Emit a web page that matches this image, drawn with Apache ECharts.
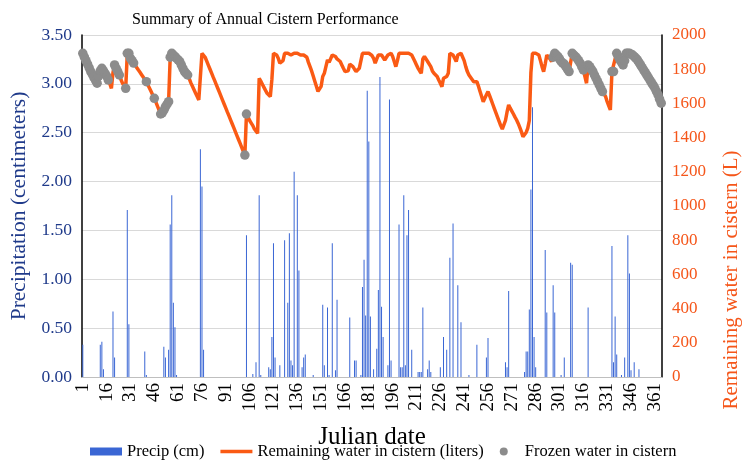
<!DOCTYPE html>
<html>
<head>
<meta charset="utf-8">
<script src="https://cdn.jsdelivr.net/npm/echarts@6/dist/echarts.min.js"></script>
<style>
  html, body { margin: 0; padding: 0; background: #fff; }
  #chart { width: 744px; height: 467px; }
</style>
</head>
<body>
<div id="chart"></div>
<script>
// Julian days 1..365 (category axis)
var julianDays = [];
for (var d = 1; d <= 365; d++) julianDays.push(String(d));

// days that had rain, and how much (cm)
var precipDays = [1, 12, 13, 14, 20, 21, 29, 30, 40, 41, 52, 53, 55, 56, 57, 58, 59, 60, 75, 76, 77,
  104, 108, 110, 112, 113, 118, 119, 120, 121, 122, 125, 128, 130, 131, 132, 133, 134, 136, 137, 139, 140, 141,
  146, 152, 153, 155, 156, 158, 160, 161, 169, 172, 173, 176, 177, 178, 179, 180, 181, 182, 184, 186, 187, 188,
  189, 190, 193, 194, 195, 200, 201, 202, 203, 204, 205, 206, 208, 212, 213, 214, 215, 218, 219, 220, 226, 228,
  230, 232, 234, 237, 239, 244, 249, 255, 256, 267, 268, 269, 279, 280, 281, 282, 283, 284, 285, 286, 292, 293,
  297, 298, 302, 304, 308, 309, 319, 334, 335, 336, 337, 340, 342, 344, 345, 346, 348, 351];
var precipCm = [0.33, 0.33, 0.36, 0.08, 0.67, 0.2, 1.71, 0.54, 0.26, 0.02, 0.31, 0.2, 0.28, 1.56, 1.86, 0.76, 0.51, 0.02, 2.33, 1.95, 0.28,
  1.45, 0.03, 0.15, 1.86, 0.02, 0.1, 0.08, 0.41, 1.37, 0.2, 0.12, 1.4, 0.76, 1.47, 0.17, 0.12, 2.1, 1.86, 1.09, 0.1, 0.2, 0.23,
  0.02, 0.74, 0.12, 0.71, 0.02, 1.37, 0.07, 0.79, 0.61, 0.17, 0.17, 0.02, 0.92, 1.2, 0.63, 2.93, 2.41, 0.62, 0.08, 0.29, 0.89, 3.07,
  0.72, 0.41, 0.12, 2.84, 0.17, 1.56, 0.1, 0.1, 1.86, 0.12, 1.45, 1.71, 0.28, 0.05, 0.05, 0.05, 0.71, 0.08, 0.17, 0.05, 0.1, 0.41,
  0.28, 1.22, 1.57, 0.94, 0.56, 0.02, 0.33, 0.2, 0.4, 0.15, 0.1, 0.88, 0.05, 0.26, 0.26, 0.69, 1.92, 2.76, 0.41, 0.1, 1.3, 0.66,
  0.94, 0.66, 0.02, 0.2, 1.17, 1.15, 0.71, 1.34, 0.15, 0.62, 0.23, 0.02, 0.2, 1.45, 1.06, 0.07, 0.15, 0.08];

// remaining water in cistern (liters), one value per day
var waterLiters = [
  1893, 1870, 1850, 1830, 1808, 1786, 1770, 1752, 1735, 1718,
  1760, 1790, 1805, 1790, 1776, 1760, 1737, 1715, 1688, 1780,
  1825, 1805, 1786, 1766, 1740, 1718, 1703, 1688, 1893, 1893,
  1864, 1850, 1836, 1823, 1809, 1795, 1782, 1768, 1754, 1740,
  1727, 1707, 1688, 1669, 1649, 1630, 1607, 1584, 1561, 1538,
  1545, 1560, 1580, 1595, 1610, 1870, 1893, 1883, 1874, 1864,
  1854, 1845, 1825, 1805, 1786, 1776, 1766, 1745, 1720, 1700,
  1680, 1660, 1640, 1620, 1610, 1893, 1893, 1870, 1847, 1824,
  1801, 1778, 1755, 1733, 1710, 1687, 1664, 1641, 1618, 1595,
  1572, 1549, 1527, 1504, 1481, 1458, 1435, 1412, 1389, 1366,
  1343, 1320, 1298, 1538, 1520, 1500, 1485, 1470, 1450, 1440,
  1425, 1747, 1730, 1712, 1694, 1676, 1659, 1649, 1640, 1740,
  1893, 1893, 1883, 1864, 1835, 1825, 1850, 1893, 1883, 1893,
  1893, 1883, 1893, 1893, 1893, 1893, 1893, 1883, 1874, 1883,
  1893, 1870, 1840, 1815, 1790, 1760, 1730, 1700, 1670, 1659,
  1700, 1757, 1776, 1786, 1854, 1840, 1830, 1883, 1883, 1874,
  1860, 1864, 1845, 1825, 1805, 1786, 1776, 1790, 1830, 1835,
  1815, 1800, 1786, 1796, 1805, 1800, 1893, 1893, 1893, 1893,
  1893, 1893, 1880, 1864, 1835, 1860, 1883, 1893, 1883, 1874,
  1854, 1864, 1883, 1893, 1893, 1874, 1845, 1815, 1850, 1893,
  1893, 1893, 1893, 1893, 1893, 1893, 1893, 1883, 1864, 1845,
  1825, 1805, 1790, 1776, 1860, 1874, 1860, 1845, 1835, 1815,
  1790, 1776, 1766, 1757, 1737, 1718, 1698, 1747, 1740, 1757,
  1776, 1893, 1883, 1883, 1874, 1845, 1883, 1893, 1893, 1883,
  1850, 1815, 1786, 1766, 1757, 1740, 1727, 1718, 1727, 1700,
  1670, 1640, 1610, 1630, 1650, 1669, 1645, 1620, 1595, 1570,
  1545, 1520, 1495, 1470, 1450, 1444, 1500, 1550, 1591, 1572,
  1555, 1538, 1520, 1503, 1483, 1460, 1435, 1405, 1415, 1430,
  1454, 1500, 1780, 1893, 1893, 1893, 1888, 1883, 1850, 1815,
  1786, 1830, 1883, 1874, 1860, 1845, 1870, 1893, 1883, 1874,
  1860, 1845, 1835, 1830, 1815, 1800, 1786, 1776, 1893, 1883,
  1874, 1864, 1850, 1835, 1815, 1796, 1757, 1718, 1825, 1815,
  1800, 1786, 1766, 1747, 1727, 1708, 1688, 1669, 1659, 1640,
  1610, 1586, 1562, 1786, 1786, 1860, 1893, 1874, 1855, 1840,
  1825, 1850, 1893, 1893, 1893, 1888, 1883, 1874, 1865, 1855,
  1840, 1825, 1810, 1795, 1780, 1765, 1750, 1735, 1720, 1705,
  1690, 1670, 1650, 1625, 1601
];

// days on which the water was frozen
var frozenDays = [1, 2, 3, 4, 5, 6, 7, 8, 9, 10, 11, 12, 13, 14, 15, 16, 17, 21, 22, 23, 24,
  28, 29, 30, 31, 32, 33, 41, 46, 50, 51, 52, 53, 54, 55, 56, 57, 58, 59, 60, 61, 62, 63, 64, 65, 66, 67,
  103, 104, 297, 298, 299, 300, 301, 302, 303, 304, 305, 306, 307, 309, 310, 311, 312, 313, 314, 315, 316,
  319, 320, 321, 322, 323, 324, 325, 326, 327, 328, 334, 335, 337, 338, 339, 340, 341, 342, 343, 344, 345,
  346, 347, 348, 349, 350, 351, 352, 353, 354, 355, 356, 357, 358, 359, 360, 361, 362, 363, 364, 365];

var leftTicks = [0, 0.5, 1, 1.5, 2, 2.5, 3, 3.5];
var rightTicks = [0, 200, 400, 600, 800, 1000, 1200, 1400, 1600, 1800, 2000];

var precipSeries = julianDays.map(function () { return 0; });
precipDays.forEach(function (day, i) { precipSeries[day - 1] = precipCm[i]; });

var frozenSeries = frozenDays.map(function (day) { return [String(day), waterLiters[day - 1]]; });

var serif = 'Liberation Serif, Times New Roman, serif';
var navy = '#1F3A8A';
var orange = '#F5561A';
var chart = echarts.init(document.getElementById('chart'));

chart.setOption({
  animation: false,
  backgroundColor: '#fff',
  title: {
    text: 'Summary of Annual Cistern Performance',
    left: 127, top: 7,
    textStyle: { fontFamily: serif, fontSize: 16, fontWeight: 'normal', color: '#000' }
  },
  grid: { left: 82, right: 82, top: 35, bottom: 90, containLabel: false },
  legend: {
    bottom: 2, left: 85,
    itemWidth: 32, itemHeight: 8, itemGap: 16,
    textStyle: { fontFamily: serif, fontSize: 16.5, color: '#000' },
    data: [
      { name: 'Precip (cm)', icon: 'rect' },
      { name: 'Remaining water in cistern (liters)', icon: 'path://M0,0H32V3.5H0Z' },
      { name: 'Frozen water in cistern', icon: 'circle' }
    ]
  },
  xAxis: {
    type: 'category',
    data: julianDays,
    boundaryGap: true,
    name: 'Julian date',
    nameLocation: 'middle',
    nameGap: 48,
    nameTextStyle: { fontFamily: serif, fontSize: 25, color: '#000' },
    axisLine: { lineStyle: { color: '#bfbfbf', width: 1 } },
    axisTick: { show: false },
    axisLabel: { interval: 14, rotate: 90, fontFamily: serif, fontSize: 19, color: '#000', margin: 6 }
  },
  yAxis: [{
    type: 'value',
    min: 0, max: 3.5, interval: 0.5,
    name: 'Precipitation (centimeters)',
    nameLocation: 'middle',
    nameGap: 50,
    nameTextStyle: { fontFamily: serif, fontSize: 21.5, color: navy },
    axisLine: { show: true, lineStyle: { color: '#000', width: 1.5 } },
    axisTick: { show: false },
    axisLabel: {
      fontFamily: serif, fontSize: 17.5, color: navy, margin: 10,
      formatter: function (v) { return leftTicks.indexOf(v) >= 0 ? v.toFixed(2) : ''; }
    },
    splitLine: { lineStyle: { color: '#d9d9d9', width: 1 } }
  }, {
    type: 'value',
    min: 0, max: 2000, interval: 200,
    axisLine: { show: true, lineStyle: { color: '#000', width: 1.5 } },
    axisTick: { show: false },
    axisLabel: {
      fontFamily: serif, fontSize: 17, color: orange, margin: 10,
      formatter: function (v) { return rightTicks.indexOf(v) >= 0 ? String(v) : ''; }
    },
    splitLine: { show: false }
  }],
  graphic: [{
    type: 'text',
    x: 731, y: 280,
    rotation: Math.PI / 2,
    style: {
      text: 'Remaining water in cistern (L)',
      fontFamily: serif, fontSize: 21, fill: orange,
      align: 'center', verticalAlign: 'middle'
    }
  }],
  series: [{
    name: 'Precip (cm)',
    type: 'bar',
    data: precipSeries,
    barWidth: 1,
    itemStyle: { color: '#3A66D4' },
    z: 1
  }, {
    name: 'Remaining water in cistern (liters)',
    type: 'line',
    yAxisIndex: 1,
    data: waterLiters,
    symbol: 'none',
    showSymbol: false,
    lineStyle: { color: '#FA5A14', width: 3.5 },
    itemStyle: { color: '#FA5A14' },
    z: 3
  }, {
    name: 'Frozen water in cistern',
    type: 'scatter',
    yAxisIndex: 1,
    data: frozenSeries,
    symbolSize: 9.5,
    itemStyle: { color: '#8c8c8c', opacity: 1 },
    z: 4
  }]
});
</script>
</body>
</html>
